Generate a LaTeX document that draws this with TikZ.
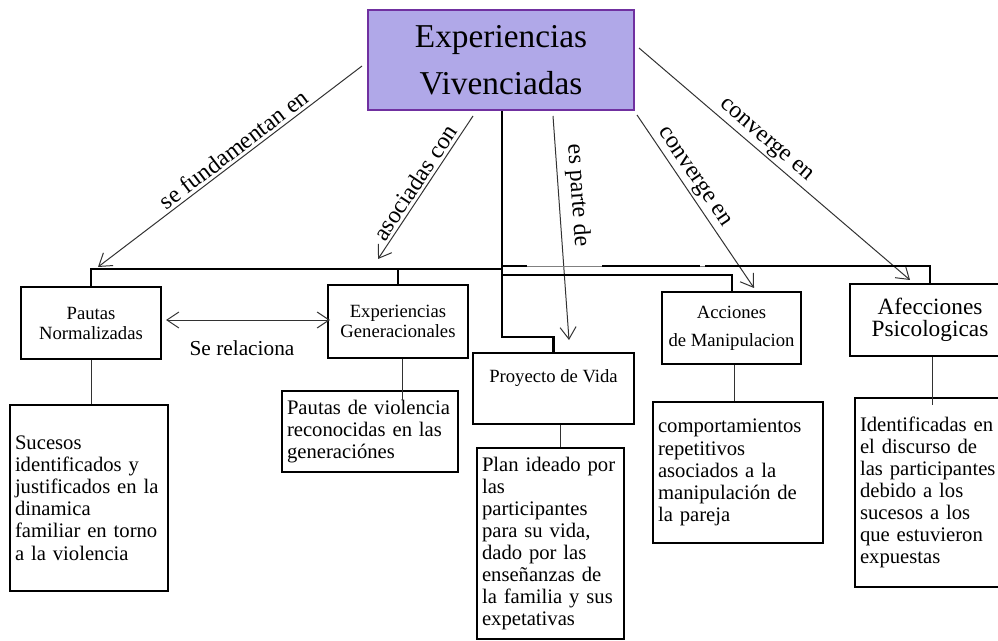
\documentclass[tikz,border=0pt]{standalone}
\usepackage{fontspec}
\setmainfont{Liberation Serif}
\usetikzlibrary{arrows.meta,calc}
\definecolor{mainfill}{RGB}{176,168,232}
\definecolor{mainborder}{RGB}{112,48,160}
\definecolor{conn}{RGB}{50,50,50}
\begin{document}
\begin{tikzpicture}[x=0.75pt,y=-0.75pt,
  box/.style={draw=black, line width=1.5pt, align=center, inner sep=0pt, font=\fontsize{14}{15}\selectfont},
  detail/.style={draw=black, line width=1.5pt, align=left, inner xsep=3pt, inner ysep=0pt, font=\fontsize{15.5}{16.6}\selectfont},
  link/.style={draw=conn, line width=0.75pt},
  arr/.style={link, -{Straight Barb[length=9pt,width=12pt]}},
  dblarr/.style={link, {Straight Barb[length=9pt,width=12pt]}-{Straight Barb[length=9pt,width=12pt]}},
  lab/.style={font=\fontsize{18}{20}\selectfont, sloped, above, inner sep=2pt},
  br/.style={draw=black, line width=1.5pt}]
\path[use as bounding box] (0,0) rectangle (998,641);
\clip (0,0) rectangle (998,641);

% main node
\node[draw=mainborder, fill=mainfill, line width=1.5pt, minimum width=199.5pt, minimum height=75pt,
      inner sep=0pt, align=center, font=\fontsize{25}{35}\selectfont] (main) at (501,60) {Experiencias\\Vivenciadas};

% category boxes
\node[box, minimum width=105pt, minimum height=54pt] (pn) at (91,323) {Pautas\\Normalizadas};
\node[box, minimum width=105pt, minimum height=54.75pt] (eg) at (398,321.5) {Experiencias\\Generacionales};
\node[box, minimum width=120.75pt, minimum height=53.25pt] (pv) at (553.5,388.5) {Proyecto de Vida\\[3pt]};
\node[box, minimum width=104.25pt, minimum height=54pt] (am) at (731.5,328) {Acciones\\[6pt]de Manipulacion};
\node[box, minimum width=120pt, minimum height=54pt, font=\fontsize{17.5}{16.5}\selectfont] (ap) at (930,320) {Afecciones\\Psicologicas};

% detail boxes
\node[detail, minimum width=118.5pt, minimum height=139.5pt, text width=111pt] (pnd) at (89,498)
  {Sucesos\\identificados y\\justificados en la\\dinamica\\familiar en torno\\a la violencia};
\node[detail, minimum width=132pt, minimum height=60.75pt, text width=124.5pt] (egd) at (370,431.5)
  {Pautas de violencia\\reconocidas en las\\generaciónes};
\node[detail, minimum width=110.25pt, minimum height=143.25pt, text width=102.75pt] (pvd) at (550.5,543.5)
  {Plan ideado por\\las\\participantes\\para su vida,\\dado por las\\enseñanzas de\\la familia y sus\\expetativas};
\node[detail, minimum width=127.5pt, minimum height=105.75pt, text width=120pt] (amd) at (738,472.5)
  {comportamientos\\repetitivos\\asociados a la\\manipulación de\\la pareja};
\node[detail, minimum width=116.25pt, minimum height=141.75pt, text width=108.75pt] (apd) at (932.5,492.5)
  {Identificadas en\\el discurso de\\las participantes\\debido a los\\sucesos a los\\que estuvieron\\expuestas};

% labelled arrows from the main node
\coordinate (s1) at (362,66);  \coordinate (t1) at (98,267);
\coordinate (s2) at (473,116); \coordinate (t2) at (378,259);
\coordinate (s3) at (553,116); \coordinate (t3) at (569,340);
\coordinate (s4) at (637,115); \coordinate (t4) at (754,288);
\coordinate (s5) at (639,48);  \coordinate (t5) at (910,280);
\draw[arr] (s1) -- node[lab, pos=0.46] {se fundamentan en} (t1);
\draw[arr] (s2) -- node[lab, pos=0.51] {asociadas con} (t2);
\draw[arr] (s3) -- node[lab, pos=0.36, inner sep=5.5pt] {es parte de} (t3);
\draw[arr] (s4) -- node[lab, pos=0.40] {converge en} (t4);
\draw[arr] (s5) -- node[lab, pos=0.44] {converge en} (t5);

% bracket lines
\coordinate (jl) at (502,269);
\coordinate (ju) at (502,266);
\coordinate (jd) at (502,275);
\coordinate (jb) at (502,337);
\draw[br, line width=1.1pt] (pn.north) |- (eg.north |- jl);
\draw[br, line width=2pt] (eg.north) |- (jl);
\draw[br, line width=2pt] (main.south -| jl) -- (jb) -| (pv.north);
\draw[br] (ju) -- (527,266);
\draw[gray, line width=0.6pt] (527,266) -- (602,266);
\draw[br] (602,266) -- (700,266);
\draw[gray, line width=0.6pt] (700,266) -- (705,266);
\draw[br] (705,266) -| (ap.north);
\draw[br] (jd) -| (am.north);

% links to detail boxes
\coordinate (egc) at (402,400);
\coordinate (apc) at (932,405);
\draw[link] (pn.south) -- (pn.south |- pnd.north);
\draw[link] (eg.south -| egc) -- (egc);
\draw[link] (pv.south -| 560,0) -- (pvd.north -| 560,0);
\draw[link] (am.south -| 734,0) -- (amd.north -| 734,0);
\draw[link] (ap.south -| apc) -- (apc);

% relation between Pautas and Experiencias Generacionales
\draw[dblarr] ($(pn.east |- 0,320)+(4,0)$) -- ($(eg.west |- 0,320)+(3,0)$);
\node[font=\fontsize{16}{18}\selectfont] (rel) at (242,348) {Se relaciona};
\end{tikzpicture}
\end{document}
